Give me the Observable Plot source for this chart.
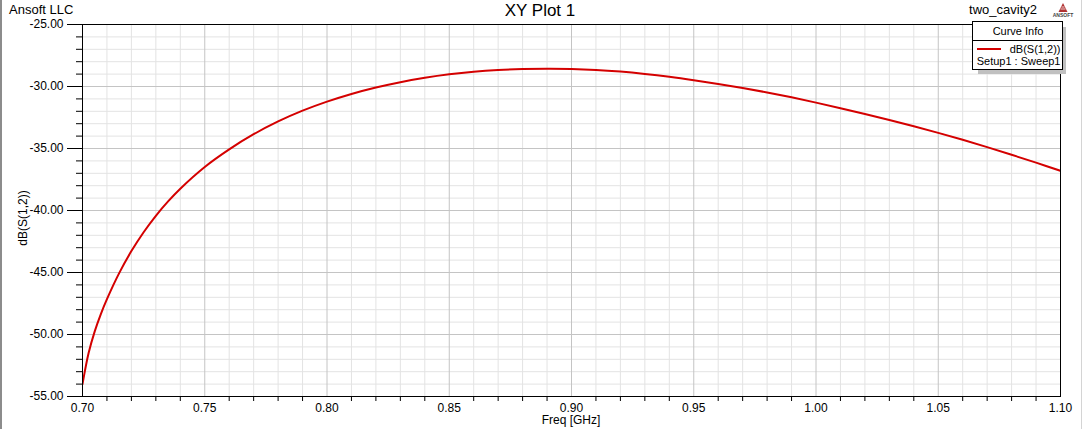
<!DOCTYPE html>
<html>
<head>
<meta charset="utf-8">
<script src="https://cdn.jsdelivr.net/npm/d3@7"></script>
<script src="https://cdn.jsdelivr.net/npm/@observablehq/plot@0.6"></script>
<style>
  html, body { margin: 0; padding: 0; background: white; }
  svg { display: block; }
</style>
</head>
<body>
<div id="chart"></div>
<script>
// ---- data ----
const freq = [0.700,0.7025,0.705,0.7075,0.710,0.715,0.720,0.725,0.730,0.735,0.740,0.750,0.760,0.770,0.780,0.790,0.800,0.810,0.820,0.830,0.840,0.850,0.860,0.870,0.880,0.890,0.900,0.910,0.920,0.930,0.940,0.950,0.960,0.970,0.980,0.990,1.000,1.010,1.020,1.030,1.040,1.050,1.060,1.070,1.080,1.090,1.100];
const dbS12 = [-54.0,-51.5,-49.75,-48.35,-47.15,-45.05,-43.275,-41.75,-40.425,-39.265,-38.24,-36.49,-35.07,-33.85,-32.82,-31.95,-31.22,-30.60,-30.08,-29.65,-29.30,-29.02,-28.81,-28.67,-28.59,-28.56,-28.58,-28.66,-28.80,-28.99,-29.22,-29.49,-29.79,-30.12,-30.48,-30.875,-31.30,-31.75,-32.22,-32.705,-33.21,-33.74,-34.30,-34.89,-35.505,-36.14,-36.80];
const xTicks = [0.70,0.75,0.80,0.85,0.90,0.95,1.00,1.05,1.10];
const xMinor = [0.71,0.72,0.73,0.74,0.76,0.77,0.78,0.79,0.81,0.82,0.83,0.84,0.86,0.87,0.88,0.89,0.91,0.92,0.93,0.94,0.96,0.97,0.98,0.99,1.01,1.02,1.03,1.04,1.06,1.07,1.08,1.09];
const yTicks = [-55,-50,-45,-40,-35,-30,-25];
const yMinor = [-54,-53,-52,-51,-49,-48,-47,-46,-44,-43,-42,-41,-39,-38,-37,-36,-34,-33,-32,-31,-29,-28,-27,-26];
const titleText = "XY Plot 1";
const companyText = "Ansoft LLC";
const projectText = "two_cavity2";
const xLabel = "Freq [GHz]";
const yLabel = "dB(S(1,2))";
const legendTitle = "Curve Info";
const seriesName = "dB(S(1,2))";
const seriesSub = "Setup1 : Sweep1";

const curveColor = "#d40000";
const font = "'Liberation Sans', Arial, sans-serif";

const plot = Plot.plot({
  width: 1084,
  height: 429,
  marginLeft: 82,
  marginRight: 24,
  marginTop: 24,
  marginBottom: 33,
  x: {domain: [0.7, 1.1]},
  y: {domain: [-55, -25]},
  style: {fontFamily: font, fontSize: "12px", color: "black", background: "white", overflow: "visible"},
  marks: [
    Plot.gridX(xMinor, {stroke: "#e3e3e3", strokeOpacity: 1}),
    Plot.gridY(yMinor, {stroke: "#e3e3e3", strokeOpacity: 1}),
    Plot.gridX(xTicks, {stroke: "#c4c4c4", strokeOpacity: 1}),
    Plot.gridY(yTicks, {stroke: "#c4c4c4", strokeOpacity: 1}),
    Plot.axisY(yMinor, {tickSize: 6, tickFormat: () => "", label: null}),
    Plot.axisY(yTicks, {tickSize: 15, tickPadding: 4, tickFormat: d => d.toFixed(2), label: null}),
    Plot.axisX(xMinor, {tickSize: 5, tickFormat: () => "", label: null}),
    Plot.axisX(xTicks, {tickSize: 0, tickPadding: 7, tickFormat: d => d.toFixed(2), label: null}),
    Plot.line(dbS12, {x: (d, i) => freq[i], y: d => d, stroke: curveColor, strokeWidth: 2, curve: "catmull-rom", clip: true}),
    Plot.frame({stroke: "black", strokeWidth: 1})
  ]
});

document.getElementById("chart").appendChild(plot);

const svg = d3.select(plot);
const ov = svg.append("g").attr("font-family", font).attr("text-anchor", "start");

// window borders
ov.append("rect").attr("x", 0).attr("y", 0).attr("width", 2).attr("height", 429).attr("fill", "#8c8c8c");
ov.append("rect").attr("x", 1081).attr("y", 0).attr("width", 1).attr("height", 429).attr("fill", "#d4d4d4");

// titles
ov.append("text").attr("x", 540).attr("y", 16).attr("text-anchor", "middle").attr("font-size", 17).text(titleText);
ov.append("text").attr("x", 9).attr("y", 14).attr("text-anchor", "start").attr("font-size", 13).text(companyText);
ov.append("text").attr("x", 1037).attr("y", 14).attr("text-anchor", "end").attr("font-size", 13).text(projectText);

// logo
ov.append("path").attr("d", "M1063,3 L1058.5,12 L1067.5,12 Z").attr("fill", "#b03030");
ov.append("path").attr("d", "M1060.5,9 L1065.5,9 M1061.5,7 L1064.5,7").attr("stroke", "white").attr("stroke-width", 0.8);
ov.append("text").attr("x", 1063).attr("y", 17).attr("text-anchor", "middle").attr("font-size", 5).attr("font-weight", "bold").attr("fill", "#444").text("ANSOFT");

// axis labels
ov.append("text").attr("x", 571).attr("y", 424).attr("text-anchor", "middle").attr("font-size", 12).text(xLabel);
ov.append("text").attr("transform", "translate(27,218) rotate(-90)").attr("text-anchor", "middle").attr("font-size", 12).text(yLabel);

// legend
const lg = ov.append("g");
lg.append("rect").attr("x", 978).attr("y", 27).attr("width", 88).attr("height", 47).attr("fill", "#c0c0c0");
lg.append("rect").attr("x", 972.5).attr("y", 21.5).attr("width", 90).attr("height", 48).attr("fill", "white").attr("stroke", "black");
lg.append("line").attr("x1", 972.5).attr("x2", 1062.5).attr("y1", 40.5).attr("y2", 40.5).attr("stroke", "black");
lg.append("text").attr("x", 1018).attr("y", 35).attr("text-anchor", "middle").attr("font-size", 11).text(legendTitle);
lg.append("line").attr("x1", 977).attr("x2", 1001).attr("y1", 49).attr("y2", 49).attr("stroke", curveColor).attr("stroke-width", 2);
lg.append("text").attr("x", 1060.5).attr("y", 53).attr("text-anchor", "end").attr("font-size", 11).text(seriesName);
lg.append("text").attr("x", 1060.5).attr("y", 65).attr("text-anchor", "end").attr("font-size", 11).text(seriesSub);
</script>
</body>
</html>
